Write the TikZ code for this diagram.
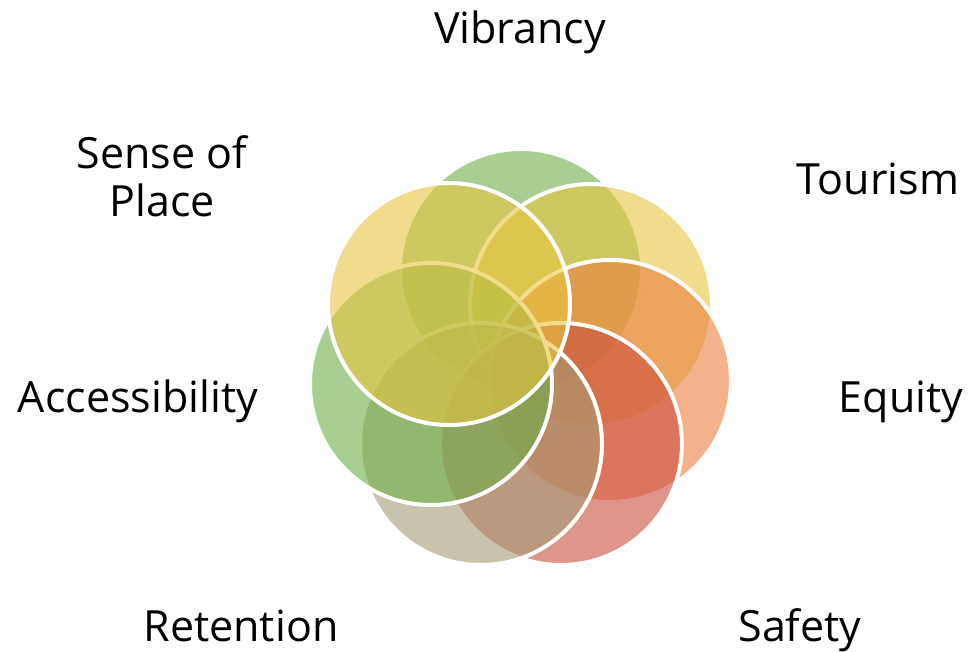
\documentclass[tikz,border=0pt]{standalone}
\usepackage{fontspec}
\setmainfont{Open Sans}
\definecolor{ringgreen}{RGB}{110,175,72}
\definecolor{ringgold}{RGB}{232,197,65}
\definecolor{ringorange}{RGB}{235,127,63}
\definecolor{ringred}{RGB}{203,78,62}
\definecolor{ringtaupe}{RGB}{163,155,117}
\begin{document}
\begin{tikzpicture}[x=1pt,y=-1pt,
  ring/.style={circle,draw=white,line width=4pt,fill opacity=0.6,minimum size=242pt,inner sep=0pt},
  label text/.style={font=\fontsize{43}{47}\selectfont,anchor=base,align=center,text=black}]

  \useasboundingbox (0,0) rectangle (969,651);

  % rings, clockwise from the top
  \node[ring,fill=ringgreen]  (vib)  at (521,270) {};
  \node[ring,fill=ringgold]   (tour) at (591,305) {};
  \node[ring,fill=ringorange] (equ)  at (610,381) {};
  \node[ring,fill=ringred]    (saf)  at (561,444) {};
  \node[ring,fill=ringtaupe]  (ret)  at (481,444) {};
  \node[ring,fill=ringgreen]  (acc)  at (431,384) {};
  \node[ring,fill=ringgold]   (sop)  at (449,304) {};

  % labels
  \node[label text] (lvib)  at (520,43)  {Vibrancy};
  \node[label text] (ltour) at (878,194) {Tourism};
  \node[label text] (lequ)  at (901,412) {Equity};
  \node[label text] (lsaf)  at (800,641) {Safety};
  \node[label text] (lret)  at (241,641) {Retention};
  \node[label text] (lacc)  at (138,412) {Accessibility};
  \node[label text] (lsop1) at (162,168) {Sense of};
  \node[label text] (lsop2) at (162,216) {Place};
\end{tikzpicture}
\end{document}
